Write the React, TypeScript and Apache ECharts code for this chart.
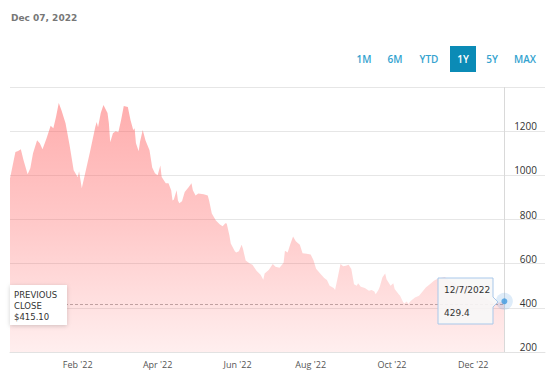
import React, { useEffect, useRef } from 'react';
import * as echarts from 'echarts';

// Days since Dec 7, 2021 and closing prices (USD)
const days = [
  0, 4, 6, 8, 10, 13, 15, 17, 20, 22, 24, 27, 30, 32, 34, 36, 38, 41, 44, 47,
  50, 51, 53, 56, 59, 63, 64, 65, 67, 69, 72, 73, 74, 76, 78, 80, 82, 84, 87, 89,
  91, 92, 93, 95, 96, 98, 100, 103, 105, 107, 109, 111, 112, 115, 117, 119, 120, 121, 123, 124,
  125, 127, 129, 132, 134, 135, 137, 139, 143, 146, 147, 149, 152, 155, 157, 159, 160, 162, 163, 166,
  167, 169, 171, 172, 174, 177, 179, 182, 185, 187, 188, 191, 194, 196, 199, 202, 203, 205, 207, 209,
  211, 214, 216, 219, 222, 224, 226, 229, 232, 234, 236, 239, 240, 242, 244, 246, 248, 250, 252, 254,
  256, 257, 259, 262, 265, 267, 269, 270, 272, 273, 275, 277, 278, 281, 283, 284, 287, 288, 290, 291,
  293, 294, 296, 299, 302, 304, 307, 310, 313, 315, 318, 321, 325, 329, 332, 336, 340, 344, 347, 351,
  355, 358, 362, 365,
];
const prices = [
  986, 1106, 1110, 1118, 1068, 1005, 1032, 1100, 1159, 1145, 1118, 1168, 1224, 1213, 1265, 1327, 1295, 1236, 1136, 1023,
  991, 1018, 941, 1023, 1105, 1220, 1242, 1218, 1282, 1318, 1282, 1236, 1150, 1191, 1200, 1195, 1250, 1314, 1309, 1250,
  1205, 1213, 1145, 1109, 1152, 1205, 1159, 1114, 1036, 1009, 1000, 1045, 992, 964, 964, 932, 886, 891, 932, 886,
  874, 883, 924, 947, 964, 932, 909, 918, 914, 909, 886, 827, 795, 777, 770, 783, 782, 727, 691, 656,
  651, 656, 686, 668, 614, 601, 595, 568, 550, 527, 556, 571, 598, 586, 582, 604, 659, 651, 689, 723,
  701, 686, 647, 645, 641, 617, 577, 556, 535, 526, 500, 490, 481, 538, 598, 588, 591, 595, 576, 507,
  500, 511, 495, 490, 477, 481, 474, 462, 481, 495, 538, 556, 530, 500, 511, 485, 462, 455, 429, 420,
  429, 417, 432, 447, 455, 470, 492, 507, 523, 530, 535, 540, 520, 510, 495, 500, 480, 470, 455, 445,
  430, 420, 425, 429.4,
];

const previousClose = 415.1;
const headerDate = 'Dec 07, 2022';
const lastDateLabel = '12/7/2022';
const xLabelDays = [50, 109, 168, 222, 282, 342];
const xLabels = ["Feb '22", "Apr '22", "Jun '22", "Aug '22", "Oct '22", "Dec '22"];
const yMin = 200;
const yMax = 1400;
const yStep = 200;
const rangeButtons = ['1M', '6M', 'YTD', '1Y', '5Y', 'MAX'];
const activeRange = '1Y';

const FONT = "'Open Sans', 'DejaVu Sans', sans-serif";
const WIDE = "'DejaVu Sans', sans-serif";

export default function App() {
  const ref = useRef<HTMLDivElement>(null);

  useEffect(() => {
    if (!ref.current) return;
    const chart = echarts.init(ref.current, undefined, { renderer: 'svg' });
    const seriesData = days.map((d, i) => [d, prices[i]]);
    const lastDay = days[days.length - 1];
    const lastPrice = prices[prices.length - 1];

    const btnCenters = [364, 395, 429, 463, 492, 525];
    const buttons: any[] = [];
    rangeButtons.forEach((b, i) => {
      const active = b === activeRange;
      if (active) {
        buttons.push({
          type: 'rect',
          shape: { x: btnCenters[i] - 13, y: 46, width: 26, height: 26 },
          style: { fill: '#0b8bb6' },
        });
      }
      buttons.push({
        type: 'text',
        x: btnCenters[i],
        y: 59,
        style: {
          text: b,
          fill: active ? '#ffffff' : '#34a3cf',
          font: `600 10px ${FONT}`,
          align: 'center',
          verticalAlign: 'middle',
        },
      });
    });

    chart.setOption({
      animation: false,
      textStyle: { fontFamily: FONT },
      grid: { left: 10, right: 5, top: 87, bottom: 31 },
      xAxis: {
        type: 'value',
        min: 0,
        max: 395,
        splitLine: { show: false },
        axisTick: { show: false },
        axisLine: { show: true, lineStyle: { color: '#e2e2e2' } },
        axisLabel: {
          customValues: xLabelDays,
          formatter: (v: number) => {
            const idx = xLabelDays.indexOf(v);
            return idx >= 0 ? xLabels[idx] : '';
          },
          color: '#555',
          fontSize: 9,
          margin: 8,
          fontFamily: FONT,
        },
      },
      yAxis: {
        type: 'value',
        position: 'right',
        min: yMin,
        max: yMax,
        interval: yStep,
        axisLine: { show: false },
        axisTick: { show: false },
        splitLine: { lineStyle: { color: '#e6e6e6' } },
        axisLabel: {
          inside: true,
          margin: 8,
          verticalAlign: 'bottom',
          color: '#333',
          fontSize: 10,
          fontFamily: FONT,
          formatter: (v: number) => (v === yMax ? '' : String(v)),
        },
      },
      series: [
        {
          type: 'line',
          data: seriesData,
          symbol: 'none',
          silent: true,
          lineStyle: { width: 0, opacity: 0 },
          areaStyle: {
            origin: 'start',
            color: new echarts.graphic.LinearGradient(0, 0, 0, 1, [
              { offset: 0, color: 'rgba(255,90,90,0.7)' },
              { offset: 0.5, color: 'rgba(255,90,90,0.46)' },
              { offset: 1, color: 'rgba(255,90,90,0.14)' },
            ]),
          },
          markLine: {
            silent: true,
            symbol: 'none',
            label: { show: false },
            data: [
              [
                { coord: [0, previousClose], lineStyle: { color: 'rgba(140,110,110,0.55)', type: [3, 2], width: 1 } },
                { coord: [lastDay, previousClose] },
              ],
              { xAxis: lastDay, lineStyle: { color: '#d9d9d9', type: 'solid', width: 1 } },
            ],
          },
        },
        {
          type: 'scatter',
          data: [[lastDay, lastPrice]],
          symbolSize: 17,
          silent: true,
          itemStyle: { color: 'rgba(90,160,225,0.25)' },
          z: 5,
        },
        {
          type: 'scatter',
          data: [[lastDay, lastPrice]],
          symbolSize: 6,
          silent: true,
          itemStyle: { color: '#3f9ae0' },
          z: 6,
        },
      ],
      graphic: [
        {
          type: 'text',
          left: 11,
          top: 13,
          style: { text: headerDate, fill: '#777', font: `bold 9px ${WIDE}` },
        },
        ...buttons,
        // Previous close box
        {
          type: 'rect',
          shape: { x: 10, y: 285, width: 57, height: 40 },
          style: { fill: '#ffffff', shadowBlur: 4, shadowColor: 'rgba(0,0,0,0.18)', shadowOffsetY: 1 },
          z: 10,
        },
        {
          type: 'text',
          x: 14,
          y: 289,
          z: 11,
          style: {
            text: `PREVIOUS\nCLOSE\n$${previousClose.toFixed(2)}`,
            fill: '#333',
            font: `8.5px ${WIDE}`,
            lineHeight: 11,
          },
        },
        // Tooltip box
        {
          type: 'polygon',
          z: 10,
          shape: {
            points: [
              [438, 278], [493, 278], [493, 297], [498, 302], [493, 307], [493, 324], [438, 324],
            ],
          },
          style: { fill: 'rgba(247,247,247,0.9)', stroke: '#a9c8ea', lineWidth: 1 },
        },
        {
          type: 'text',
          x: 444,
          y: 290,
          z: 11,
          style: { text: lastDateLabel, fill: '#333', font: `9px ${WIDE}`, verticalAlign: 'middle' },
        },
        {
          type: 'text',
          x: 444,
          y: 313,
          z: 11,
          style: { text: String(lastPrice), fill: '#333', font: `9px ${WIDE}`, verticalAlign: 'middle' },
        },
      ],
    });

    return () => chart.dispose();
  }, []);

  return (
    <div
      ref={ref}
      style={{ position: 'fixed', left: 0, top: 0, width: 550, height: 383, background: '#fff' }}
    />
  );
}
